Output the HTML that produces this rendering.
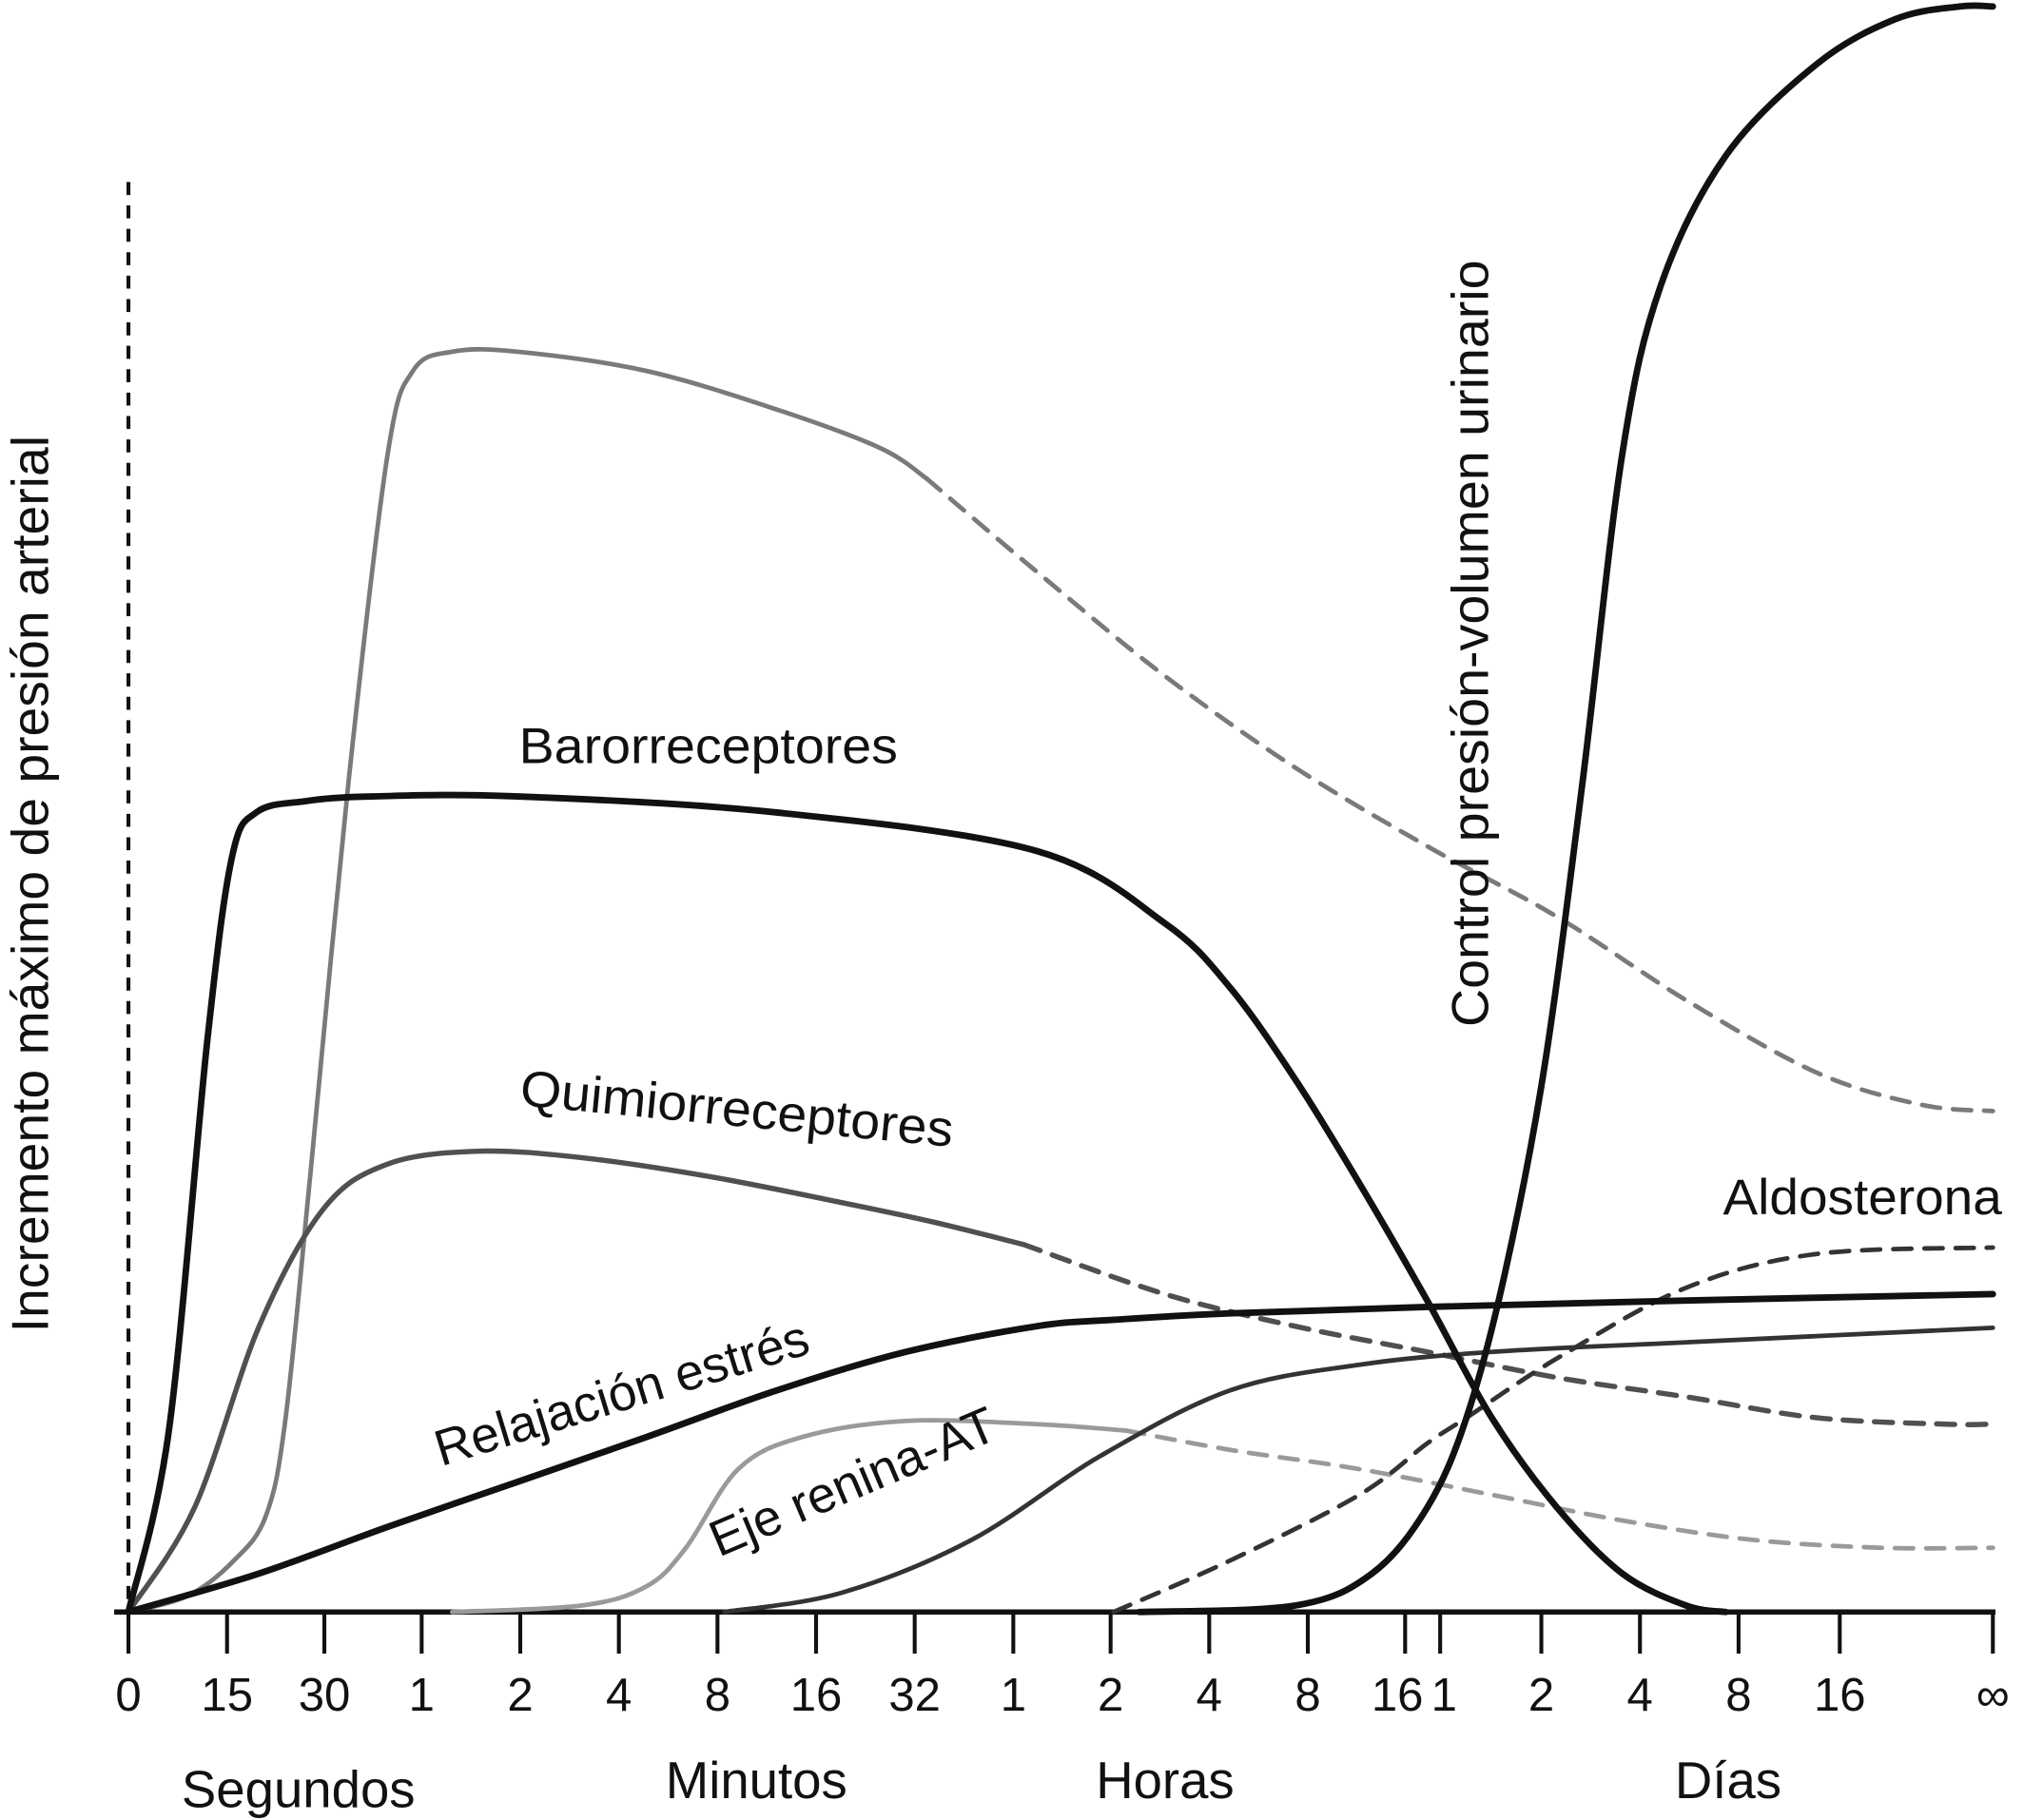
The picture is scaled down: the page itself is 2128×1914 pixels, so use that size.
<!DOCTYPE html>
<html><head><meta charset="utf-8">
<style>
html,body{margin:0;padding:0;background:#fff;}
svg{display:block;}
text{font-family:"Liberation Sans",sans-serif;fill:#111;}
</style></head>
<body>
<svg id="chart" width="2128" height="1914" viewBox="0 0 1560 1400" preserveAspectRatio="none" xmlns="http://www.w3.org/2000/svg">
  <line x1="99" y1="140" x2="99" y2="1240" stroke="#111" stroke-width="3" stroke-dasharray="10,8"/>
  <line x1="88" y1="1240" x2="1538" y2="1240" stroke="#111" stroke-width="4"/>
  <g id="ticks"></g>
  <g id="curves"></g>
  <text transform="translate(37,1025) rotate(-90)" font-size="40" textLength="690" lengthAdjust="spacingAndGlyphs">Incremento máximo de presión arterial</text>
  <text x="400" y="587" font-size="39" textLength="292" lengthAdjust="spacingAndGlyphs">Barorreceptores</text>
  <text transform="translate(400,850) rotate(5.5)" font-size="39" textLength="335" lengthAdjust="spacingAndGlyphs">Quimiorreceptores</text>
  <text transform="translate(340,1128) rotate(-17)" font-size="39">Relajación estrés</text>
  <text transform="translate(554,1198) rotate(-23)" font-size="39">Eje renina-AT</text>
  <text x="1328" y="934" font-size="39" textLength="215" lengthAdjust="spacingAndGlyphs">Aldosterona</text>
  <text transform="translate(1147,790) rotate(-90)" font-size="40" textLength="590" lengthAdjust="spacingAndGlyphs">Control presión-volumen urinario</text>
  <text x="230" y="1390" font-size="40" text-anchor="middle">Segundos</text>
  <text x="583" y="1383" font-size="40" text-anchor="middle">Minutos</text>
  <text x="898" y="1383" font-size="40" text-anchor="middle">Horas</text>
  <text x="1332" y="1383" font-size="40" text-anchor="middle">Días</text>
</svg>
<script>
const tickLabels = ["0","15","30","1","2","4","8","16","32","1","2","4","8","16","1","2","4","8","16","∞"];
// series: x in tick-index units, y in % of max pressure increase
const baroX = [0,0.41,0.8,1.05,1.3,1.8,2.5,3.97,6.6,9.24,10.55,11.21,11.87,12.53,13.63,14.51,15.16,15.82,16.47,16.87];
const baroY = [0,11.3,35.6,47,49.8,50.5,50.8,50.8,49.8,47.4,42.9,38.9,33.2,26.7,19.4,12.1,6.5,2.4,0.4,0];
const cnsX = [0,0.6,1.07,1.4,1.6,1.86,2.25,2.65,2.91,3.31,3.97,5.28,6.6,7.65,8.12];
const cnsY = [0,1.0,3.2,6.0,12,27.5,51.8,72.1,77.3,78.5,78.5,77.3,74.9,72.5,70.6];
const cnsDashX = [8.12,9.24,10.55,11.87,13.63,15.16,16.47,17.77,18.53,19];
const cnsDashY = [70.6,64.8,58.3,52.6,47.7,43.3,38.1,33.6,31.6,31.2];
const chemoX = [0,0.67,1.33,1.99,2.65,3.57,4.62,5.94,7.26,8.18,9.1];
const chemoY = [0,6.5,17.8,25.1,27.9,28.7,28.3,27.1,25.5,24.3,22.9];
const chemoDashX = [9.1,10.55,11.87,13.63,15.16,16.47,17.77,18.69,19];
const chemoDashY = [22.9,19.8,17.8,16.2,14.6,13.4,12.1,11.7,11.7];
const stressX = [0,1.33,2.65,3.97,5.28,6.6,7.91,9.24,10.03,11.21,13.63,16.47,19];
const stressY = [0,2.4,5.3,8.1,10.9,13.8,16.2,17.8,18.2,18.6,19.0,19.4,19.8];
const reninX = [3.31,4.62,5.28,5.68,6.21,6.86,7.91,9.24,10.16];
const reninY = [0,0.4,1.6,4.0,8.9,10.9,11.9,11.7,11.3];
const reninDashX = [10.16,11.21,12.53,14.51,15.82,17.13,18.27,19];
const reninDashY = [11.3,10.1,8.9,7.3,5.7,4.5,4.0,4.0];
const aldoX = [6.07,7.26,8.58,9.89,11.21,12.53,14.51,16.47,19];
const aldoY = [0,1.2,4.5,9.7,13.8,15.4,16.2,16.8,17.7];
const aldoDashX = [10.03,11.21,12.53,13.63,14.26,15.16,16.47,17.77,19];
const aldoDashY = [0,3.2,7.3,10.5,12.1,15.8,20.2,22.3,22.7];
const urinX = [10.29,11.87,12.66,13.63,14.26,14.64,15.03,15.42,15.82,16.21,16.87,17.77,18.36,18.78,19];
const urinY = [0,0.4,2.4,6.5,12.1,21.1,33.9,51.8,72.1,82.6,90.7,96.4,99.2,100,100];

const tickPos = [99,175,250,325,401,477,553,629,705,781,856,932,1008,1083,1110,1188,1264,1340,1418,1536];
function xs(i){ const k=Math.max(0,Math.min(tickPos.length-2,Math.floor(i))); return tickPos[k]+(tickPos[k+1]-tickPos[k])*(i-k); }
function ys(v){ return 1240 - v*12.35; }
const NS="http://www.w3.org/2000/svg";

const tg=document.getElementById('ticks');
tickLabels.forEach((lab,i)=>{
  const l=document.createElementNS(NS,'line');
  
  
  l.setAttribute('x1',xs(i));l.setAttribute('x2',xs(i));l.setAttribute('y1',1240);l.setAttribute('y2',1272);
  l.setAttribute('stroke','#111');l.setAttribute('stroke-width','3');
  tg.appendChild(l);
  const t=document.createElementNS(NS,'text');
  
  
  let dx=0; if(i===13) dx=-6; if(i===14) dx=3;
  t.setAttribute('x',xs(i)+dx);t.setAttribute('y',1316);t.setAttribute('font-size','36');t.setAttribute('text-anchor','middle');
  t.textContent=lab; tg.appendChild(t);
});

function pathD(X,Y){
  const p=X.map((x,i)=>[xs(x),ys(Y[i])]);
  let d='M'+p[0][0]+','+p[0][1];
  for(let i=0;i<p.length-1;i++){
    const p0=p[i-1]||p[i],p1=p[i],p2=p[i+1],p3=p[i+2]||p2;
    const c1=[p1[0]+(p2[0]-p0[0])/6,p1[1]+(p2[1]-p0[1])/6];
    const c2=[p2[0]-(p3[0]-p1[0])/6,p2[1]-(p3[1]-p1[1])/6];
    d+=' C'+c1[0]+','+c1[1]+' '+c2[0]+','+c2[1]+' '+p2[0]+','+p2[1];
  }
  return d;
}
const cg=document.getElementById('curves');
function draw(name,X,Y,color,w,dash){
  const p=document.createElementNS(NS,'path');
  
  
  p.setAttribute('d',pathD(X,Y));p.setAttribute('fill','none');p.setAttribute('stroke',color);
  p.setAttribute('stroke-width',w);p.setAttribute('stroke-linecap','round');
  if(dash){p.setAttribute('stroke-dasharray','14,10');}
  cg.appendChild(p);
}
draw('cns-ischemic-line',cnsX,cnsY,'#7a7a7a',3.5,false);
draw('cns-ischemic-dashed',cnsDashX,cnsDashY,'#7a7a7a',3.5,true);
draw('chemoreceptor-line',chemoX,chemoY,'#505050',4,false);
draw('chemoreceptor-dashed',chemoDashX,chemoDashY,'#505050',4,true);
draw('renin-line',reninX,reninY,'#9a9a9a',3.5,false);
draw('renin-dashed',reninDashX,reninDashY,'#9a9a9a',3.5,true);
draw('aldosterone-line',aldoX,aldoY,'#333',3.5,false);
draw('aldosterone-dashed',aldoDashX,aldoDashY,'#333',3.5,true);
draw('stress-relaxation-line',stressX,stressY,'#111',5,false);
draw('baroreceptor-line',baroX,baroY,'#111',5,false);
draw('urinary-volume-line',urinX,urinY,'#111',5,false);
</script>
</body></html>
